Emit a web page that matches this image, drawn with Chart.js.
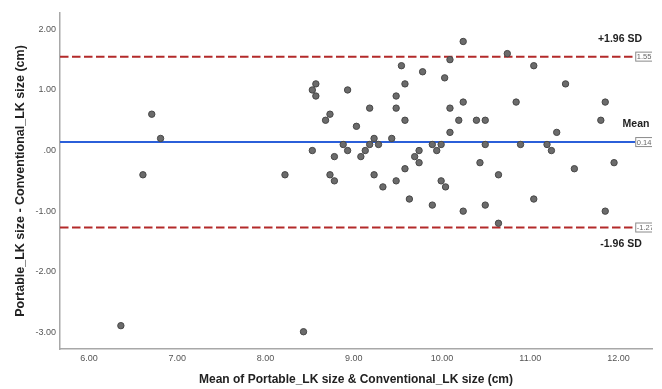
<!DOCTYPE html>
<html>
<head>
<meta charset="utf-8">
<script src="https://cdn.jsdelivr.net/npm/chart.js@4/dist/chart.umd.min.js"></script>
<style>
  html, body { margin: 0; padding: 0; background: #fff; }
  #wrap { width: 662px; height: 389px; }
</style>
</head>
<body>
<div id="wrap"><canvas id="baChart"></canvas></div>
<script>
// mean of the two measurements (x) and their difference (y)
const meanSize = [
  8.57, 8.53, 8.57, 6.71, 6.81, 8.53, 6.61, 8.22, 6.36, 8.43,
  10.24, 10.09, 9.54, 9.78, 9.58, 10.03, 8.93, 9.48, 9.18, 9.48,
  10.09, 10.24, 8.73, 8.68, 9.58, 10.19, 10.39, 9.03, 10.09, 9.23,
  9.43, 8.88, 9.18, 9.28, 9.89, 9.99, 8.93, 9.13, 9.74, 9.94,
  8.78, 9.08, 9.69, 9.74, 10.43, 8.73, 9.23, 9.58, 8.78, 9.48,
  9.99, 9.33, 10.04, 9.63, 9.89, 10.24, 10.74, 11.04, 11.40, 10.84,
  11.85, 10.49, 11.80, 11.30, 10.49, 10.89, 11.19, 11.24, 11.95, 10.64,
  11.50, 10.49, 11.04, 11.85, 10.64
];
const difference = [
  1.10, 1.00, 0.90, 0.60, 0.20, 0.00, -0.40, -0.40, -2.89, -2.99,
  1.80, 1.50, 1.40, 1.30, 1.10, 1.20, 1.00, 0.90, 0.70, 0.70,
  0.70, 0.80, 0.60, 0.50, 0.50, 0.50, 0.50, 0.40, 0.30, 0.20,
  0.20, 0.10, 0.10, 0.10, 0.10, 0.10, 0.00, 0.00, 0.00, 0.00,
  -0.10, -0.10, -0.10, -0.20, -0.20, -0.40, -0.40, -0.30, -0.50, -0.50,
  -0.50, -0.60, -0.60, -0.80, -0.90, -1.00, 1.60, 1.40, 1.10, 0.80,
  0.80, 0.50, 0.50, 0.30, 0.10, 0.10, 0.10, 0.00, -0.20, -0.40,
  -0.30, -0.90, -0.80, -1.00, -1.20
];

const meanDiff = 0.14;
const upperLimit = 1.55;
const lowerLimit = -1.27;
const refLabels = ['+1.96 SD', 'Mean', '-1.96 SD'];
const refValueText = ['1.55', '0.14', '-1.27'];

const xTicks = [6, 7, 8, 9, 10, 11, 12];
const yTicks = [-3, -2, -1, 0, 1, 2];

const xMin = 5.67, xMax = 12.38;
const yMin = -3.275, yMax = 2.27;
const lineEnd = 12.19;

const FONT = '"Liberation Sans", Arial, sans-serif';

function spssFmt(v) {
  if (v === 0) return '.00';
  return v.toFixed(2);
}

function hLine(y) {
  return [{ x: xMin, y: y }, { x: lineEnd, y: y }];
}

const refLabelPlugin = {
  id: 'refLabels',
  afterDatasetsDraw(chart) {
    const { ctx, chartArea, scales } = chart;
    const xs = scales.x, ys = scales.y;
    const endPx = xs.getPixelForValue(lineEnd);
    const levels = [upperLimit, meanDiff, lowerLimit];

    ctx.save();
    // labels above / below the lines
    ctx.fillStyle = '#222';
    ctx.font = 'bold 10.5px ' + FONT;
    ctx.textAlign = 'center';
    ctx.textBaseline = 'middle';
    ctx.fillText(refLabels[0], 620, ys.getPixelForValue(upperLimit) - 17.5);
    ctx.fillText(refLabels[1], 636, ys.getPixelForValue(meanDiff) - 18);
    ctx.fillText(refLabels[2], 621, ys.getPixelForValue(lowerLimit) + 16.5);

    // little value boxes at the line ends, clipped by the plot edge
    ctx.beginPath();
    ctx.rect(chartArea.left, 0, chartArea.right - chartArea.left, chart.height);
    ctx.clip();
    levels.forEach((lv, i) => {
      const py = ys.getPixelForValue(lv);
      ctx.fillStyle = '#fff';
      ctx.fillRect(endPx, py - 4.5, 17, 9);
      ctx.strokeStyle = '#8a8a8a';
      ctx.lineWidth = 1;
      ctx.strokeRect(endPx + 0.5, py - 4.5, 17, 9);
      ctx.fillStyle = '#666';
      ctx.font = '7.5px ' + FONT;
      ctx.textAlign = 'left';
      ctx.fillText(refValueText[i], endPx + 1.5, py + 0.5);
    });
    ctx.restore();
  }
};

new Chart(document.getElementById('baChart'), {
  type: 'scatter',
  data: {
    datasets: [
      {
        label: 'Difference',
        data: meanSize.map((m, i) => ({ x: m, y: difference[i] })),
        backgroundColor: '#6b6b6b',
        borderColor: '#474747',
        borderWidth: 1,
        pointRadius: 3.2
      },
      {
        type: 'line',
        label: 'Mean',
        data: hLine(meanDiff),
        borderColor: '#2b5fd9',
        borderWidth: 2,
        pointRadius: 0
      },
      {
        type: 'line',
        label: '+1.96 SD',
        data: hLine(upperLimit),
        borderColor: '#b32a2a',
        borderWidth: 2,
        borderDash: [8.5, 3.5],
        pointRadius: 0
      },
      {
        type: 'line',
        label: '-1.96 SD',
        data: hLine(lowerLimit),
        borderColor: '#b32a2a',
        borderWidth: 2,
        borderDash: [8.5, 3.5],
        pointRadius: 0
      }
    ]
  },
  options: {
    responsive: true,
    maintainAspectRatio: false,
    animation: false,
    layout: { padding: { left: 0, top: 13, right: 10, bottom: 0 } },
    plugins: {
      legend: { display: false },
      tooltip: { enabled: false }
    },
    scales: {
      x: {
        type: 'linear',
        min: xMin,
        max: xMax,
        afterBuildTicks: s => { s.ticks = xTicks.map(v => ({ value: v })); },
        afterFit: s => { s.height = 40; },
        grid: { display: false, drawTicks: false },
        border: { display: true, color: '#a8a8a8', width: 1.5 },
        ticks: {
          padding: 4,
          color: '#555',
          font: { family: FONT, size: 9 },
          callback: v => spssFmt(v)
        },
        title: {
          display: true,
          text: 'Mean of Portable_LK size & Conventional_LK size (cm)',
          color: '#222',
          font: { family: FONT, size: 12, weight: 'bold' },
          padding: { top: 0, bottom: 2 }
        }
      },
      y: {
        type: 'linear',
        min: yMin,
        max: yMax,
        afterBuildTicks: s => { s.ticks = yTicks.map(v => ({ value: v })); },
        afterFit: s => { s.width = 60; },
        grid: { display: false, drawTicks: false },
        border: { display: true, color: '#a8a8a8', width: 1.5 },
        ticks: {
          padding: 4,
          color: '#555',
          font: { family: FONT, size: 9 },
          callback: v => spssFmt(v)
        },
        title: {
          display: true,
          text: 'Portable_LK size - Conventional_LK size (cm)',
          color: '#222',
          font: { family: FONT, size: 12.5, weight: 'bold' },
          padding: { top: 13, bottom: 0 }
        }
      }
    }
  },
  plugins: [refLabelPlugin]
});
</script>
</body>
</html>
